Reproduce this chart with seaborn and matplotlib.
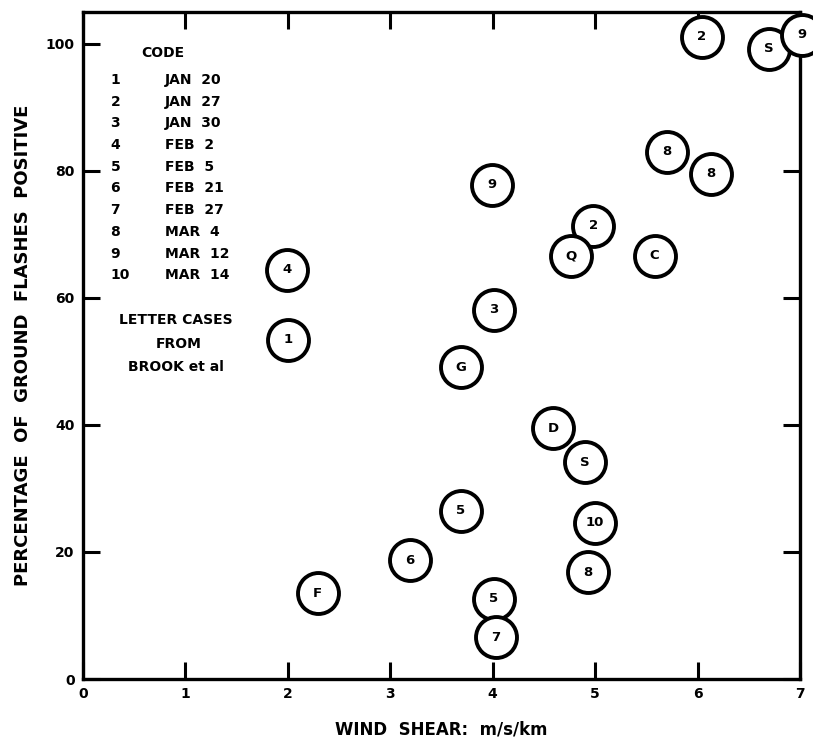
import matplotlib
matplotlib.use("Agg")
import matplotlib.pyplot as plt
import seaborn as sns
import pandas as pd

# Storm cases: wind shear (m/s/km) vs. percentage of positive ground flashes
labels = ["2", "S", "9", "8", "8", "9", "2", "Q", "C", "4", "3", "1", "G",
          "D", "S", "5", "10", "8", "6", "F", "5", "7"]
wind_shear = [6.04, 6.70, 7.02, 5.70, 6.13, 3.99, 4.98, 4.76, 5.58, 1.99, 4.01,
              2.00, 3.69, 4.59, 4.90, 3.69, 5.00, 4.93, 3.19, 2.29, 4.01, 4.03]
pct_positive = [101.1, 99.2, 101.4, 83.0, 79.5, 77.8, 71.3, 66.5, 66.6, 64.4,
                58.1, 53.4, 49.1, 39.5, 34.1, 26.5, 24.6, 16.8, 18.7, 13.5,
                12.6, 6.6]

code_numbers = ["1", "2", "3", "4", "5", "6", "7", "8", "9", "10"]
code_dates = ["JAN  20", "JAN  27", "JAN  30", "FEB  2", "FEB  5", "FEB  21",
              "FEB  27", "MAR  4", "MAR  12", "MAR  14"]

x_ticks = [0, 1, 2, 3, 4, 5, 6, 7]
y_ticks = [0, 20, 40, 60, 80, 100]

df = pd.DataFrame({"shear": wind_shear, "pct": pct_positive, "label": labels})

sns.set_style("ticks")
plt.rcParams["font.family"] = ["DejaVu Sans"]
plt.rcParams["font.weight"] = "bold"
plt.rcParams["text.color"] = "black"
plt.rcParams["axes.labelcolor"] = "black"

fig = plt.figure(figsize=(8.13, 7.40), dpi=100)
ax = fig.add_axes([0.102, 0.0824, 0.882, 0.9016])

sns.scatterplot(data=df, x="shear", y="pct", ax=ax, marker="o", s=29.5 ** 2,
                facecolor="white", edgecolor="black", linewidth=2.8,
                clip_on=False, zorder=3, legend=False)

for sx, py, lab in zip(df["shear"], df["pct"], df["label"]):
    ax.text(sx, py, lab, ha="center", va="center", fontsize=9.5,
            fontweight="bold", zorder=4, clip_on=False)

ax.set_xlim(0, 7)
ax.set_ylim(0, 105)
ax.set_xticks(x_ticks)
ax.set_yticks(y_ticks)
ax.set_xticklabels([str(v) for v in x_ticks], fontsize=10, fontweight="bold")
ax.set_yticklabels([str(v) for v in y_ticks], fontsize=10, fontweight="bold")
ax.tick_params(direction="in", length=12, width=2.2, top=True, right=True,
               pad=6, colors="black")
for side in ax.spines.values():
    side.set_linewidth(2.4)
    side.set_color("black")

ax.set_xlabel("WIND  SHEAR:  m/s/km", fontsize=12, fontweight="bold",
              labelpad=14)
ax.set_ylabel("PERCENTAGE  OF  GROUND  FLASHES  POSITIVE", fontsize=13,
              fontweight="bold", labelpad=10)

# Code key drawn inside the plotting area
ax.text(0.78, 98.6, "CODE", ha="center", va="center", fontsize=10,
        fontweight="bold")
row_y = 94.3
for num, date in zip(code_numbers, code_dates):
    ax.text(0.27, row_y, num, ha="left", va="center", fontsize=10,
            fontweight="bold")
    ax.text(0.80, row_y, date, ha="left", va="center", fontsize=10,
            fontweight="bold")
    row_y -= 3.42

ax.text(0.91, 56.5, "LETTER CASES", ha="center", va="center", fontsize=10,
        fontweight="bold")
ax.text(0.93, 52.8, "FROM", ha="center", va="center", fontsize=10,
        fontweight="bold")
ax.text(0.91, 49.1, "BROOK et al", ha="center", va="center", fontsize=10,
        fontweight="bold")

fig.savefig("out.png", dpi=100)
